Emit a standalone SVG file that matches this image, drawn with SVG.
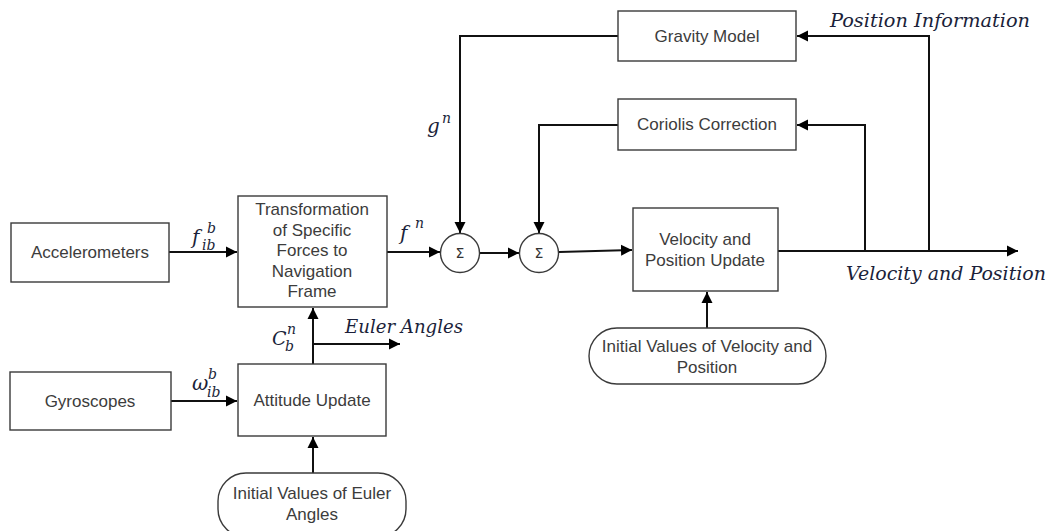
<svg xmlns="http://www.w3.org/2000/svg" width="1057" height="531" viewBox="0 0 1057 531">
<defs>
<marker id="arr" markerUnits="userSpaceOnUse" markerWidth="12" markerHeight="12" refX="11" refY="6" orient="auto">
<path d="M0,0.5 L11,6 L0,11.5 z" fill="#000"/>
</marker>
<style>
.box{fill:#fff;stroke:#3a3a3a;stroke-width:1.4}
.lbl{font-family:"Liberation Sans",Arial,sans-serif;font-size:17px;fill:#3c3c3c;text-anchor:middle}
.sig{font-family:"DejaVu Sans","Liberation Sans",sans-serif;font-size:14px;fill:#333;text-anchor:middle}
.con{fill:none;stroke:#111;stroke-width:2}
.math{font-family:"DejaVu Serif","Liberation Serif",serif;font-style:italic;fill:#1b1f3a}
</style>
</defs>
<rect width="1057" height="531" fill="#fff"/>

<g id="connectors">
<path class="con" d="M169,252 H237" marker-end="url(#arr)"/>
<path class="con" d="M387,252 H440" marker-end="url(#arr)"/>
<path class="con" d="M480,253 H519" marker-end="url(#arr)"/>
<path class="con" d="M559,252 L632,250" marker-end="url(#arr)"/>
<path class="con" d="M171,401 H237" marker-end="url(#arr)"/>
<path class="con" d="M313,364 V308" marker-end="url(#arr)"/>
<path class="con" d="M313,344 H400" marker-end="url(#arr)"/>
<path class="con" d="M313,473 V437" marker-end="url(#arr)"/>
<path class="con" d="M707,328 V292" marker-end="url(#arr)"/>
<path class="con" d="M778,251 H1018" marker-end="url(#arr)"/>
<path class="con" d="M865,251 V125 H797" marker-end="url(#arr)"/>
<path class="con" d="M929,251 V36 H797" marker-end="url(#arr)"/>
<path class="con" d="M618,36 H460 V233" marker-end="url(#arr)"/>
<path class="con" d="M618,125 H539 V233" marker-end="url(#arr)"/>
</g>

<g id="accelerometers">
<rect class="box" x="11" y="223" width="158" height="59"/>
<text class="lbl" x="90" y="258">Accelerometers</text>
</g>

<g id="gyroscopes">
<rect class="box" x="10" y="372" width="161" height="58"/>
<text class="lbl" x="90" y="407">Gyroscopes</text>
</g>

<g id="transformation">
<rect class="box" x="238" y="196" width="149" height="111"/>
<text class="lbl" x="312" y="215">Transformation</text>
<text class="lbl" x="312" y="236">of Specific</text>
<text class="lbl" x="312" y="256">Forces to</text>
<text class="lbl" x="312" y="277">Navigation</text>
<text class="lbl" x="312" y="297">Frame</text>
</g>

<g id="attitude">
<rect class="box" x="238" y="364" width="148" height="72"/>
<text class="lbl" x="312" y="406">Attitude Update</text>
</g>

<g id="init-euler">
<rect class="box" x="218" y="473" width="188" height="64" rx="28" ry="28"/>
<text class="lbl" x="312" y="499">Initial Values of Euler</text>
<text class="lbl" x="312" y="520">Angles</text>
</g>

<g id="sum1">
<circle cx="460" cy="253" r="19.5" fill="#fff" stroke="#3a3a3a" stroke-width="1.4"/>
<text class="sig" x="460" y="258">Σ</text>
</g>

<g id="sum2">
<circle cx="539" cy="253" r="19.5" fill="#fff" stroke="#3a3a3a" stroke-width="1.4"/>
<text class="sig" x="539" y="258">Σ</text>
</g>

<g id="gravity">
<rect class="box" x="618" y="11" width="178" height="50"/>
<text class="lbl" x="707" y="42">Gravity Model</text>
</g>

<g id="coriolis">
<rect class="box" x="618" y="99" width="178" height="51"/>
<text class="lbl" x="707" y="130">Coriolis Correction</text>
</g>

<g id="velocity">
<rect class="box" x="633" y="208" width="145" height="83"/>
<text class="lbl" x="705" y="245">Velocity and</text>
<text class="lbl" x="705" y="266">Position Update</text>
</g>

<g id="init-velocity">
<rect class="box" x="589" y="328" width="237" height="56" rx="28" ry="28"/>
<text class="lbl" x="707" y="352">Initial Values of Velocity and</text>
<text class="lbl" x="707" y="373">Position</text>
</g>

<g id="labels">
<text class="math" x="192" y="244" font-size="20">f</text>
<text class="math" x="207" y="233" font-size="14">b</text>
<text class="math" x="202" y="250" font-size="14">ib</text>

<text class="math" x="400" y="240" font-size="20">f</text>
<text class="math" x="415" y="228" font-size="14">n</text>

<text class="math" x="427" y="133" font-size="20">g</text>
<text class="math" x="442" y="123" font-size="14">n</text>

<text class="math" x="272" y="345" font-size="19">C</text>
<text class="math" x="287" y="334" font-size="14">n</text>
<text class="math" x="285" y="351" font-size="14">b</text>

<text class="math" x="192" y="390" font-size="20">ω</text>
<text class="math" x="208" y="379" font-size="14">b</text>
<text class="math" x="207" y="397" font-size="14">ib</text>

<text class="math" x="345" y="333" font-size="18" textLength="118" lengthAdjust="spacingAndGlyphs">Euler Angles</text>
<text class="math" x="830" y="27" font-size="19" textLength="200" lengthAdjust="spacingAndGlyphs">Position Information</text>
<text class="math" x="846" y="280" font-size="19" textLength="200" lengthAdjust="spacingAndGlyphs">Velocity and Position</text>
</g>
</svg>
